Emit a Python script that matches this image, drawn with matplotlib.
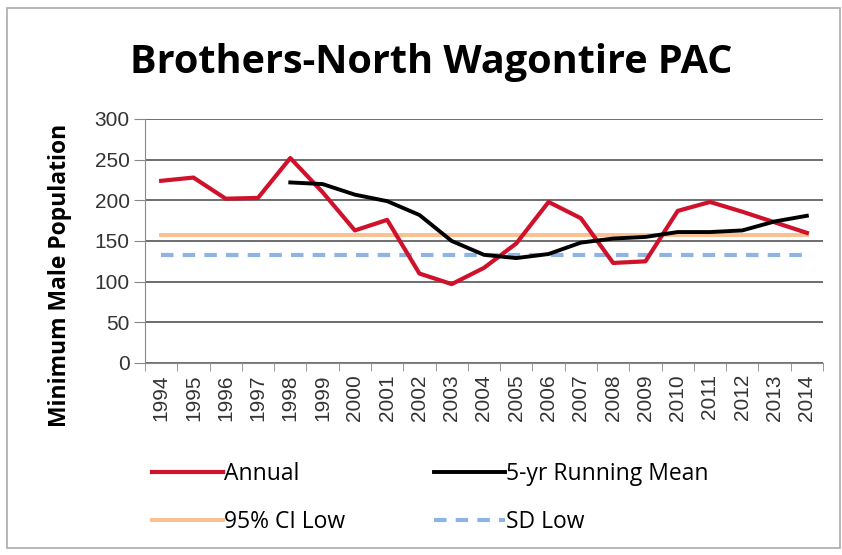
import matplotlib
matplotlib.use("Agg")
import matplotlib.pyplot as plt
from matplotlib.patches import Rectangle
import numpy as np

years = [str(y) for y in range(1994, 2015)]
annual = [224, 228, 202, 203, 252, 210, 163, 176, 110, 97, 117, 147, 198, 178, 123, 125, 187, 198, 186, 173, 160]
running_mean = [None, None, None, None, 222, 220, 207, 199, 182, 150, 133, 129, 134, 148, 153, 155, 161, 161, 163, 174, 181]
ci_low = 157
sd_low = 133
yticks = [0, 50, 100, 150, 200, 250, 300]

fig = plt.figure(figsize=(8.42, 5.55), dpi=100)
ax = fig.add_axes([145/842, 1-363/555, 678/842, 244/555])

x = np.arange(len(years))
rm_x = [i for i, v in enumerate(running_mean) if v is not None]
rm_y = [v for v in running_mean if v is not None]

l_ci, = ax.plot([x[0], x[-1]], [ci_low, ci_low], color="#FAC090", lw=2.8, label="95% CI Low", zorder=3)
l_sd, = ax.plot([x[0], x[-1]], [sd_low, sd_low], color="#8DB4E2", lw=3, ls=(0, (3, 2.2)), label="SD Low", zorder=3)
l_an, = ax.plot(x, annual, color="#D0112B", lw=3, label="Annual", zorder=4)
l_rm, = ax.plot(rm_x, rm_y, color="black", lw=2.8, label="5-yr Running Mean", zorder=5)

ax.set_xlim(-0.5, len(years) - 0.5)
ax.set_ylim(0, 300)
ax.set_yticks(yticks)
ax.set_yticklabels([str(v) for v in yticks], fontsize=15, family="Liberation Sans", color="#333333")
ax.set_xticks(x)
ax.set_xticklabels(years, rotation=90, fontsize=15, family="Liberation Sans", color="#333333")
ax.set_xticks(np.arange(-0.5, len(years)), minor=True)
ax.tick_params(axis="x", which="major", length=0, pad=8)
ax.tick_params(axis="x", which="minor", length=6, direction="out", color="#888888")
ax.tick_params(axis="y", length=8, direction="out", color="#888888", pad=3)
ax.grid(axis="y", color="#555555", lw=1.2, zorder=1)
for s in ["top", "right"]:
    ax.spines[s].set_visible(False)
ax.spines["left"].set_color("#888888")
ax.spines["bottom"].set_color("#888888")
ax.set_axisbelow(True)

ax.set_ylabel("Minimum Male Population", fontsize=16.5, fontweight="bold", family="Open Sans")
ax.yaxis.set_label_coords(-0.108, 0.36)

fig.text(0.512, 0.888, "Brothers-North Wagontire PAC", ha="center", va="center",
         fontsize=28.5, fontweight="bold", family="Open Sans")

fig.legend(handles=[l_an, l_ci, l_rm, l_sd], ncol=2, loc="upper left",
           bbox_to_anchor=(131/842, 1-441/555), frameon=False,
           prop={"family": "Open Sans", "size": 16.5}, handlelength=3.1,
           handletextpad=0.05, columnspacing=3.9, labelspacing=1.07)

fig.patches.append(Rectangle((7/842, 1-548/555), 833/842, 540/555, transform=fig.transFigure,
                             fill=False, edgecolor="#AAAAAA", lw=1.2))

fig.savefig("out.png", dpi=100)
